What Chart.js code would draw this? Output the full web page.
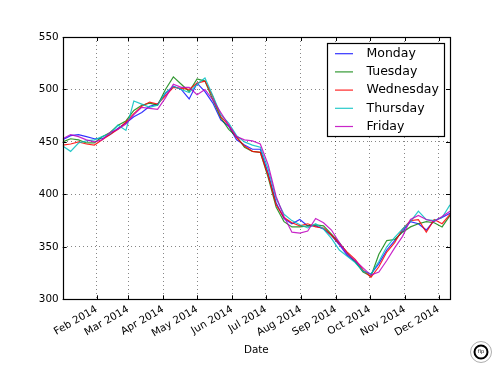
<!DOCTYPE html>
<html>
<head>
<meta charset="utf-8">
<script src="https://cdn.jsdelivr.net/npm/chart.js@4.4.1/dist/chart.umd.min.js"></script>
<style>
    html, body { margin: 0; padding: 0; background: #fff; }
    #wrap { width: 500px; height: 375px; }
</style>
</head>
<body>
<div id="wrap"><canvas id="chart" width="500" height="375"></canvas></div>
<script>
// weekly sample dates (x categories)
const dates = [
    '2014-01-02', '2014-01-09', '2014-01-16', '2014-01-23', '2014-01-30',
    '2014-02-06', '2014-02-13', '2014-02-20', '2014-02-27',
    '2014-03-06', '2014-03-13', '2014-03-20', '2014-03-27',
    '2014-04-03', '2014-04-10', '2014-04-17', '2014-04-24',
    '2014-05-01', '2014-05-08', '2014-05-15', '2014-05-22', '2014-05-29',
    '2014-06-05', '2014-06-12', '2014-06-19', '2014-06-26',
    '2014-07-03', '2014-07-10', '2014-07-17', '2014-07-24', '2014-07-31',
    '2014-08-07', '2014-08-14', '2014-08-21', '2014-08-28',
    '2014-09-04', '2014-09-11', '2014-09-18', '2014-09-25',
    '2014-10-02', '2014-10-09', '2014-10-16', '2014-10-23', '2014-10-30',
    '2014-11-06', '2014-11-13', '2014-11-20', '2014-11-27',
    '2014-12-04', '2014-12-11'
];

const monday = [
    452, 456, 457, 455, 453, 453, 457, 463, 468, 474,
    478, 484, 486, 496, 503, 500, 491, 506, 498, 487,
    471, 465, 452, 447, 443, 443, 420, 392, 377, 372,
    376, 370, 370, 367, 361, 352, 342, 336, 327, 324,
    334, 347, 356, 365, 374, 372, 366, 375, 378, 382
];
const tuesday = [
    450, 453, 452, 449, 449, 455, 459, 466, 470, 480,
    485, 487, 485, 500, 512, 505, 498, 510, 508, 490,
    473, 462, 455, 445, 441, 440, 416, 388, 374, 369,
    369, 370, 371, 370, 362, 354, 344, 336, 326, 322,
    343, 356, 357, 364, 369, 372, 374, 373, 369, 380
];
const wednesday = [
    447, 448, 450, 448, 447, 452, 457, 462, 469, 477,
    484, 488, 486, 494, 502, 501, 500, 506, 508, 493,
    474, 466, 454, 446, 441, 440, 418, 390, 378, 373,
    370, 372, 369, 368, 361, 353, 345, 338, 328, 321,
    331, 345, 354, 367, 375, 376, 364, 376, 372, 381
];
const thursday = [
    446, 441, 449, 451, 452, 455, 458, 466, 461, 489,
    486, 483, 485, 497, 503, 500, 497, 505, 511, 494,
    476, 468, 456, 450, 447, 445, 424, 396, 381, 375,
    371, 368, 372, 367, 358, 347, 341, 335, 327, 324,
    336, 350, 359, 367, 374, 384, 376, 375, 378, 390
];
const friday = [
    453, 457, 455, 452, 450, 452, 459, 462, 467, 476,
    483, 482, 481, 492, 505, 502, 502, 495, 500, 490,
    478, 466, 455, 452, 451, 448, 428, 398, 379, 364,
    363, 365, 377, 373, 366, 354, 343, 337, 330, 323,
    326, 337, 349, 360, 376, 380, 376, 374, 379, 384
];

const seriesNames = ['Monday', 'Tuesday', 'Wednesday', 'Thursday', 'Friday'];
const seriesColors = ['rgba(0,0,255,0.8)', 'rgba(0,128,0,0.8)', 'rgba(255,0,0,0.85)', 'rgba(0,191,191,0.85)', 'rgba(191,0,191,0.85)'];

const monthTicks = ['2014-02-01', '2014-03-01', '2014-04-01', '2014-05-01', '2014-06-01', '2014-07-01',
    '2014-08-01', '2014-09-01', '2014-10-01', '2014-11-01', '2014-12-01'];
const monthLabels = ['Feb 2014', 'Mar 2014', 'Apr 2014', 'May 2014', 'Jun 2014', 'Jul 2014',
    'Aug 2014', 'Sep 2014', 'Oct 2014', 'Nov 2014', 'Dec 2014'];
const yTicks = [300, 350, 400, 450, 500, 550];

const FONT = 'DejaVu Sans';

function dayNum(s) {
    const p = s.split('-').map(Number);
    return (Date.UTC(p[0], p[1] - 1, p[2]) - Date.UTC(2014, 0, 1)) / 86400000;
}

function toPoints(values) {
    return values.map((v, i) => ({ x: dayNum(dates[i]), y: v }));
}

const allValues = [monday, tuesday, wednesday, thursday, friday];

// frame, inner ticks, legend box, watermark
const decorPlugin = {
    id: 'decor',
    afterDraw(chart) {
        const ctx = chart.ctx;
        const a = chart.chartArea;
        const xs = chart.scales.x;
        const ys = chart.scales.y;
        ctx.save();
        ctx.strokeStyle = '#000';
        ctx.lineWidth = 1;
        ctx.beginPath();
        xs.ticks.forEach(t => {
            const px = Math.round(xs.getPixelForValue(t.value)) + 0.5;
            ctx.moveTo(px, a.bottom); ctx.lineTo(px, a.bottom - 4);
            ctx.moveTo(px, a.top); ctx.lineTo(px, a.top + 4);
        });
        ys.ticks.forEach(t => {
            const py = Math.round(ys.getPixelForValue(t.value)) + 0.5;
            ctx.moveTo(a.left, py); ctx.lineTo(a.left + 4, py);
            ctx.moveTo(a.right, py); ctx.lineTo(a.right - 4, py);
        });
        ctx.stroke();
        ctx.lineWidth = 1.2;
        ctx.strokeRect(Math.round(a.left) + 0.5, Math.round(a.top) + 0.5,
            Math.round(a.right - a.left), Math.round(a.bottom - a.top));

        // legend
        const bx = 327.5, by = 43.5, bw = 117, bh = 93;
        ctx.fillStyle = '#fff';
        ctx.fillRect(bx, by, bw, bh);
        ctx.lineWidth = 1.2;
        ctx.strokeRect(bx, by, bw, bh);
        ctx.font = '12.5px "' + FONT + '"';
        ctx.textBaseline = 'middle';
        ctx.textAlign = 'left';
        chart.data.datasets.forEach((ds, i) => {
            const y = 53.7 + i * 18.2;
            ctx.strokeStyle = ds.borderColor;
            ctx.lineWidth = 1.2;
            ctx.beginPath();
            ctx.moveTo(335, y); ctx.lineTo(353, y);
            ctx.stroke();
            ctx.fillStyle = '#000';
            ctx.fillText(ds.label, 366.5, y);
        });

        // small stamp, bottom right
        ctx.strokeStyle = '#000';
        ctx.lineWidth = 2;
        ctx.beginPath(); ctx.arc(481, 352, 6.5, 0, Math.PI * 2); ctx.stroke();
        ctx.lineWidth = 0.6;
        ctx.strokeStyle = '#777';
        ctx.beginPath(); ctx.arc(481, 352, 10.5, 0, Math.PI * 2); ctx.stroke();
        ctx.fillStyle = '#000';
        ctx.font = '5px "' + FONT + '"';
        ctx.textAlign = 'center';
        ctx.fillText('flp', 481, 352);
        ctx.restore();
    }
};

const ctx = document.getElementById('chart').getContext('2d');
const chart = new Chart(ctx, {
    type: 'line',
    data: {
        datasets: seriesNames.map((name, i) => ({
            label: name,
            data: toPoints(allValues[i]),
            borderColor: seriesColors[i],
            backgroundColor: seriesColors[i],
            borderWidth: 1.2,
            pointRadius: 0,
            tension: 0,
            fill: false,
            order: seriesNames.length - i
        }))
    },
    options: {
        responsive: false,
        animation: false,
        events: [],
        layout: { padding: { top: 37, right: 50, left: 0, bottom: 0 } },
        plugins: {
            legend: { display: false },
            tooltip: { enabled: false }
        },
        scales: {
            x: {
                type: 'linear',
                min: dayNum(dates[0]),
                max: dayNum(dates[dates.length - 1]),
                afterBuildTicks(scale) {
                    scale.ticks = monthTicks.map(d => ({ value: dayNum(d) }));
                },
                afterFit(scale) { scale.height = 75.7; },
                border: { display: false, dash: [1, 3] },
                grid: {
                    color: 'rgba(0,0,0,0.6)',
                    lineWidth: 0.8,
                    drawTicks: false
                },
                ticks: {
                    autoSkip: false,
                    minRotation: 30,
                    maxRotation: 30,
                    padding: 4,
                    color: '#000',
                    font: { family: FONT, size: 10.4 },
                    callback: (value, index) => monthLabels[index]
                },
                title: {
                    display: true,
                    text: 'Date',
                    color: '#000',
                    font: { family: FONT, size: 10.4 },
                    padding: { top: 0, bottom: 18 }
                }
            },
            y: {
                min: 300,
                max: 550,
                afterBuildTicks(scale) {
                    scale.ticks = yTicks.map(v => ({ value: v }));
                },
                afterFit(scale) { scale.width = 62.7; },
                border: { display: false, dash: [1, 3] },
                grid: {
                    color: 'rgba(0,0,0,0.6)',
                    lineWidth: 0.8,
                    drawTicks: false
                },
                ticks: {
                    padding: 4,
                    color: '#000',
                    font: { family: FONT, size: 10.4 }
                }
            }
        }
    },
    plugins: [decorPlugin]
});
</script>
</body>
</html>
